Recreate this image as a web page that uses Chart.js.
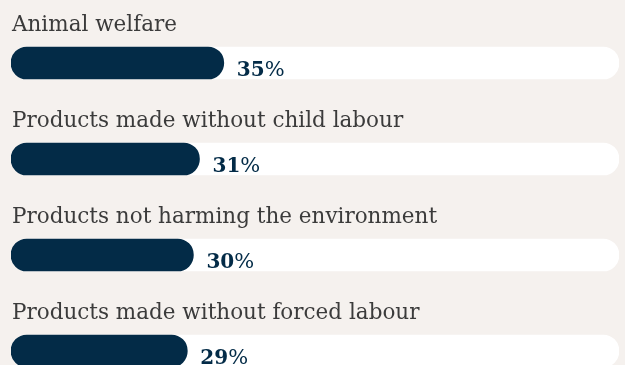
<!DOCTYPE html>
<html>
<head>
<meta charset="utf-8">
<script src="https://cdn.jsdelivr.net/npm/chart.js@4/dist/chart.umd.min.js"></script>
<style>
  html, body { margin: 0; padding: 0; background: #f5f1ee; overflow: hidden; }
  #wrap { width: 625px; height: 400px; position: relative; }
</style>
</head>
<body>
<div id="wrap"><canvas id="myChart"></canvas></div>
<script>
var categories = [
    'Animal welfare',
    'Products made without child labour',
    'Products not harming the environment',
    'Products made without forced labour'
];
var shares = [35, 31, 30, 29];
var trackValues = [100, 100, 100, 100];

var navy = '#032b47';
var serif = '"DejaVu Serif", "Liberation Serif", serif';

// category label above each bar, value label after its end
var rowLabels = {
    id: 'rowLabels',
    afterDatasetsDraw: function (chart) {
        var ctx = chart.ctx;
        var meta = chart.getDatasetMeta(1);
        ctx.save();
        ctx.textBaseline = 'alphabetic';
        meta.data.forEach(function (bar, i) {
            var top = bar.y - 16;
            ctx.font = '21.5px ' + serif;
            ctx.fillStyle = '#3b3b3b';
            ctx.textAlign = 'left';
            ctx.fillText(categories[i], chart.chartArea.left + 1, top - 16);

            var x = bar.x + 13;
            var y = bar.y + 13;
            var num = String(shares[i]);
            ctx.font = 'bold 20px ' + serif;
            ctx.fillStyle = navy;
            ctx.fillText(num, x, y);
            var w = ctx.measureText(num).width;
            ctx.font = '21px ' + serif;
            ctx.fillText('%', x + w, y);
        });
        ctx.restore();
    }
};

var ctx = document.getElementById('myChart');
var myBarChart = new Chart(ctx, {
    type: 'bar',
    data: {
        labels: categories,
        datasets: [{
            data: trackValues,
            backgroundColor: '#ffffff',
            borderRadius: 16,
            borderSkipped: false,
            barThickness: 32,
            grouped: false,
            order: 2
        }, {
            data: shares,
            backgroundColor: navy,
            borderRadius: 16,
            borderSkipped: false,
            barThickness: 32,
            grouped: false,
            order: 1
        }]
    },
    options: {
        indexAxis: 'y',
        responsive: true,
        maintainAspectRatio: false,
        animation: false,
        layout: { padding: { top: 15, bottom: 1, left: 11, right: 6 } },
        scales: {
            x: { display: false, min: 0, max: 100 },
            y: { display: false }
        },
        plugins: {
            legend: { display: false },
            tooltip: { enabled: false }
        }
    },
    plugins: [rowLabels]
});
</script>
</body>
</html>
